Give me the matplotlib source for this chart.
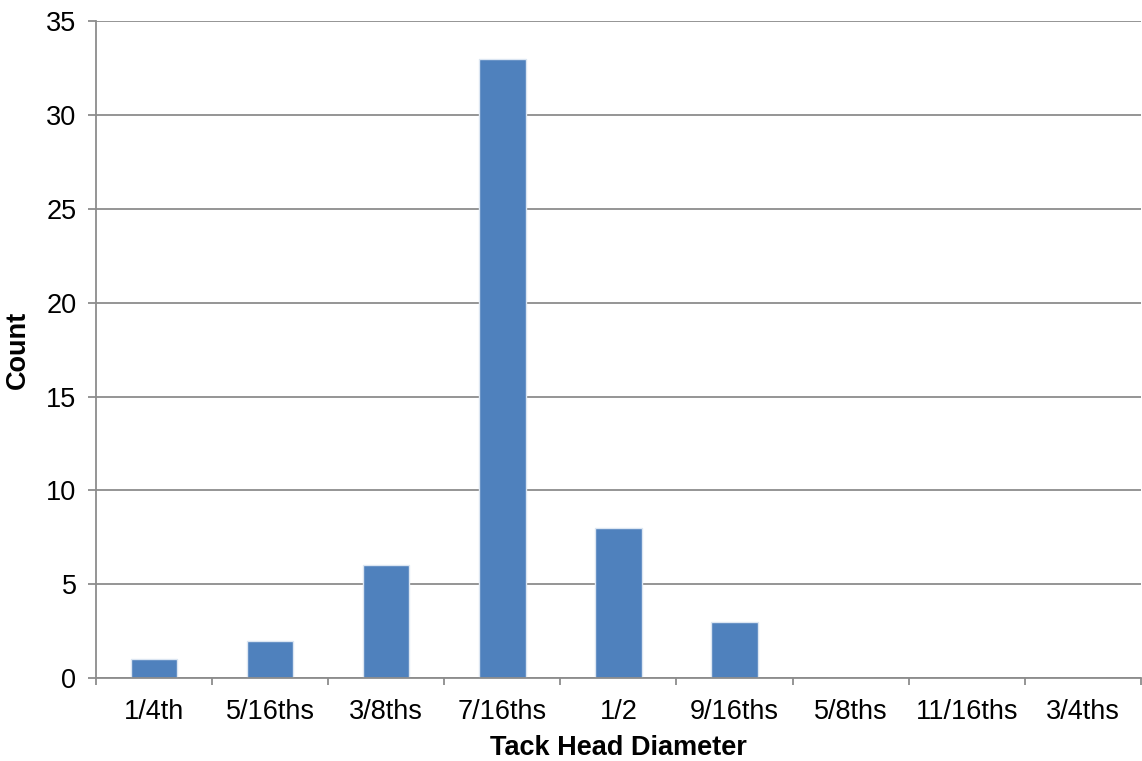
import numpy as np
import matplotlib.pyplot as plt

# Tack head diameter counts
sizes = ["1/4th", "5/16ths", "3/8ths", "7/16ths", "1/2", "9/16ths", "5/8ths", "11/16ths", "3/4ths"]
counts = [1, 2, 6, 33, 8, 3, 0, 0, 0]
y_ticks = [0, 5, 10, 15, 20, 25, 30, 35]

plt.rcParams["font.family"] = ["Liberation Sans", "DejaVu Sans"]

fig = plt.figure(figsize=(11.42, 7.61), dpi=100)
ax = fig.add_axes([0.084, 0.109, 0.915, 0.863])

x = np.arange(len(sizes))
ax.bar(x, counts, width=0.4, color="#4F81BD", edgecolor="#DCE6F2", linewidth=1, zorder=3)

ax.set_xlim(-0.5, len(sizes) - 0.5)
ax.set_ylim(0, 35)
ax.set_yticks(y_ticks)
ax.yaxis.grid(True, color="#8C8C8C", linewidth=1.3, zorder=0)

# ticks at category boundaries, labels at the centres
ax.set_xticks(np.arange(len(sizes) + 1) - 0.5)
ax.set_xticklabels([])
ax.set_xticks(x, minor=True)
ax.set_xticklabels(sizes, minor=True)
ax.tick_params(axis="x", which="major", length=5, width=1.3, color="#8C8C8C", direction="out")
ax.tick_params(axis="x", which="minor", length=0, pad=15, labelsize=19.5)
ax.tick_params(axis="y", length=6, width=1.3, color="#8C8C8C", pad=8, labelsize=19.5)

for side in ["top", "right"]:
    ax.spines[side].set_visible(False)
for side in ["left", "bottom"]:
    ax.spines[side].set_color("#8C8C8C")
    ax.spines[side].set_linewidth(1.3)
    ax.spines[side].set_zorder(4)

ax.set_xlabel("Tack Head Diameter", fontsize=19.5, fontweight="bold", labelpad=7)
ax.set_ylabel("Count", fontsize=19.5, fontweight="bold", labelpad=11)

fig.savefig("out.png", dpi=100)
